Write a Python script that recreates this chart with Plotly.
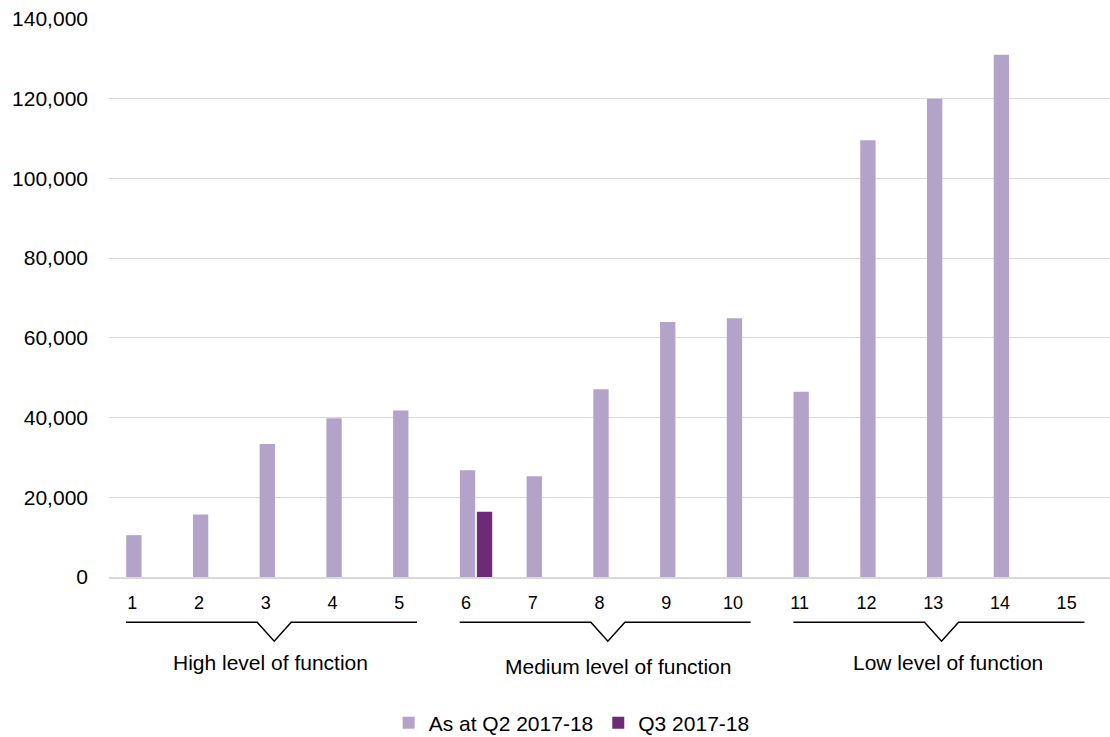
import plotly.graph_objects as go

categories = [str(i) for i in range(1, 16)]
q2_values = [10500, 15700, 33400, 39800, 41800, 26800, 25300, 47100, 64000, 64900,
             46500, 109600, 120000, 131000, None]
q3_values = [None, None, None, None, None, 16400, None, None, None, None,
             None, None, None, None, None]
series_names = ["As at Q2 2017-18", "Q3 2017-18"]
series_colors = ["#b3a3c8", "#6c2a77"]
y_ticks = [0, 20000, 40000, 60000, 80000, 100000, 120000, 140000]
group_labels = ["High level of function", "Medium level of function", "Low level of function"]
group_start = [0, 5, 10]
group_end = [4, 9, 14]

# layout tweaks for group labels (x shift in category units, y in paper units)
label_dx = [-0.05, 0.15, 0.09]
label_y = [-0.154, -0.161, -0.154]

FONT = "Liberation Sans, Arial, sans-serif"

fig = go.Figure()
for name, vals, col in zip(series_names, [q2_values, q3_values], series_colors):
    fig.add_trace(go.Bar(x=categories, y=vals, name=name, marker_color=col,
                         marker_line_width=0))

shapes = []
annotations = []
for k, label in enumerate(group_labels):
    left = group_start[k] - 0.245
    right = group_end[k] + 0.116
    notch = (left + right) / 2 + 0.04
    w = 0.255
    path = (f"M {left} -0.081 L {notch - w} -0.081 L {notch} -0.115 "
            f"L {notch + w} -0.081 L {right} -0.081")
    shapes.append(dict(type="path", xref="x", yref="paper", path=path,
                       line=dict(color="#000000", width=1.5)))
    annotations.append(dict(x=notch + label_dx[k], y=label_y[k], xref="x", yref="paper",
                            text=label, showarrow=False, yanchor="middle",
                            font=dict(family=FONT, size=21, color="#000000")))

fig.update_layout(
    width=1110, height=737,
    margin=dict(l=109, r=0, t=19, b=160),
    paper_bgcolor="white", plot_bgcolor="white",
    barmode="group", bargap=0.49, bargroupgap=0.1,
    font=dict(family=FONT, size=21, color="#000000"),
    shapes=shapes, annotations=annotations,
    showlegend=True,
    legend=dict(orientation="h", xref="container", yref="container",
                x=0.515, xanchor="center", y=0.019, yanchor="middle",
                font=dict(family=FONT, size=21, color="#000000"),
                itemwidth=30, bgcolor="rgba(0,0,0,0)"),
)
fig.update_xaxes(type="category", range=[-0.5, 14.5], showgrid=False,
                 showline=True, linecolor="#d9d9d9", linewidth=2,
                 ticks="", ticklabelshift=-10, ticklabelstandoff=8,
                 tickfont=dict(family=FONT, size=18, color="#000000"))
fig.update_yaxes(range=[0, 140000], tickvals=y_ticks, tickformat=",",
                 showgrid=True, gridcolor="#d9d9d9", gridwidth=1,
                 zeroline=False, showline=False, ticks="",
                 ticklabelstandoff=20,
                 tickfont=dict(family=FONT, size=21, color="#000000"))

fig.write_html("out.html", config={"displayModeBar": False},
               post_script="document.body.style.margin='0px';")
